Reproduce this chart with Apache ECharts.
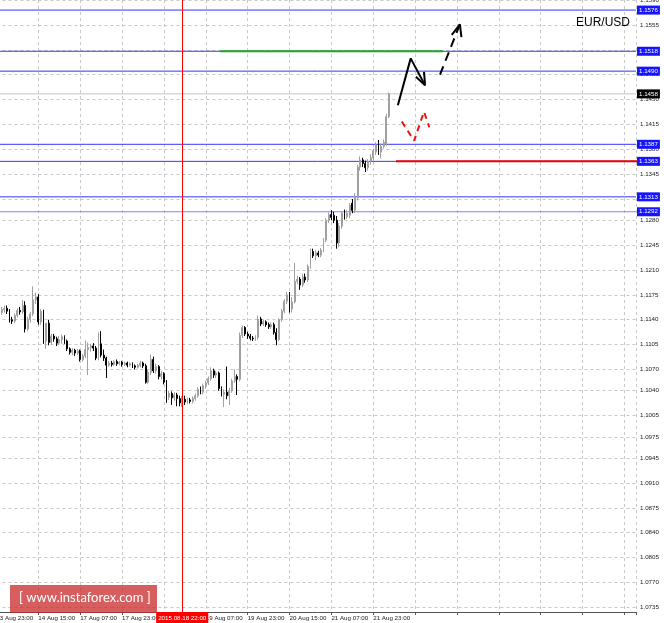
<!DOCTYPE html>
<html><head><meta charset="utf-8">
<script src="https://cdn.jsdelivr.net/npm/echarts@6/dist/echarts.min.js"></script>
<style>html,body{margin:0;padding:0;background:#fff;}#c{width:664px;height:623px;}</style>
</head><body><div id="c"></div>
<script>
// ---- data ----
const title = 'EUR/USD';
const timeLabels = ["13 Aug 23:00","14 Aug 15:00","17 Aug 07:00","17 Aug 23:00","18 Aug 15:00","19 Aug 07:00","19 Aug 23:00","20 Aug 15:00","21 Aug 07:00","21 Aug 23:00"];
const barsPerLabel = 16;
const firstBar = 1;           // index of first candle (13 Aug 23:00 = 0)
const lastVisibleBar = 244.4; // right edge of chart in bar units
const yMin = 1.07284, yMax = 1.15902;
const yTicks = [1.0735,1.0770,1.0805,1.0840,1.0875,1.0910,1.0945,1.0975,1.1005,1.1040,1.1070,1.1105,1.1140,1.1175,1.1210,1.1245,1.1280,1.1310,1.1345,1.1380,1.1415,1.1450,1.1485,1.1520,1.1555,1.1590];

const open = [
1.1153,1.1150,1.1154,1.1156,1.1152,1.1140,1.1138,1.1146,1.1153,1.1151,
1.1160,1.1127,1.1140,1.1148,1.1168,1.1172,1.1137,1.1152,1.1110,1.1135,
1.1108,1.1117,1.1113,1.1107,1.1112,1.1116,1.1110,1.1099,1.1094,1.1097,
1.1093,1.1096,1.1084,1.1089,1.1098,1.1101,1.1103,1.1100,1.1086,1.1106,
1.1090,1.1086,1.1076,1.1079,1.1077,1.1081,1.1078,1.1080,1.1077,1.1079,
1.1076,1.1078,1.1075,1.1073,1.1076,1.1079,1.1075,1.1052,1.1066,1.1084,
1.1068,1.1074,1.1060,1.1064,1.1052,1.1031,1.1036,1.1030,1.1034,1.1029,
1.1023,1.1028,1.1024,1.1027,1.1025,1.1029,1.1033,1.1042,1.1038,1.1047,
1.1051,1.1057,1.1068,1.1062,1.1065,1.1043,1.1035,1.1038,1.1033,1.1040,
1.1054,1.1060,1.1056,1.1118,1.1129,1.1120,1.1117,1.1114,1.1113,1.1115,
1.1141,1.1134,1.1137,1.1133,1.1130,1.1133,1.1122,1.1112,1.1140,1.1152,
1.1166,1.1176,1.1155,1.1165,1.1194,1.1197,1.1189,1.1200,1.1196,1.1215,
1.1236,1.1230,1.1234,1.1231,1.1238,1.1252,1.1280,1.1288,1.1287,1.1280,
1.1248,1.1272,1.1290,1.1285,1.1287,1.1304,1.1294,1.1312,1.1355,1.1365,
1.1360,1.1354,1.1363,1.1368,1.1376,1.1388,1.1376,1.1384,1.1388,1.1426];
const close = [
1.1150,1.1154,1.1156,1.1152,1.1140,1.1138,1.1146,1.1153,1.1151,1.1160,
1.1127,1.1140,1.1148,1.1168,1.1172,1.1137,1.1152,1.1110,1.1135,1.1108,
1.1117,1.1113,1.1107,1.1112,1.1116,1.1110,1.1099,1.1094,1.1097,1.1093,
1.1096,1.1084,1.1089,1.1098,1.1101,1.1103,1.1100,1.1086,1.1103,1.1090,
1.1086,1.1076,1.1079,1.1077,1.1081,1.1078,1.1080,1.1077,1.1079,1.1076,
1.1078,1.1075,1.1073,1.1076,1.1079,1.1075,1.1052,1.1066,1.1084,1.1068,
1.1074,1.1060,1.1064,1.1052,1.1031,1.1036,1.1030,1.1034,1.1029,1.1023,
1.1028,1.1024,1.1027,1.1025,1.1029,1.1033,1.1042,1.1038,1.1047,1.1051,
1.1057,1.1068,1.1062,1.1065,1.1043,1.1035,1.1038,1.1033,1.1040,1.1054,
1.1060,1.1056,1.1118,1.1129,1.1120,1.1117,1.1114,1.1113,1.1115,1.1141,
1.1134,1.1137,1.1133,1.1130,1.1133,1.1122,1.1112,1.1140,1.1152,1.1166,
1.1175,1.1155,1.1165,1.1194,1.1197,1.1189,1.1200,1.1196,1.1215,1.1236,
1.1230,1.1234,1.1231,1.1238,1.1252,1.1280,1.1288,1.1284,1.1280,1.1248,
1.1272,1.1290,1.1285,1.1290,1.1301,1.1294,1.1312,1.1355,1.1365,1.1360,
1.1354,1.1363,1.1368,1.1378,1.1386,1.1376,1.1384,1.1390,1.1426,1.1458];
const high = [
1.1158,1.1158,1.1160,1.1160,1.1155,1.1144,1.1149,1.1156,1.1158,1.1168,
1.1166,1.1144,1.1151,1.1187,1.1178,1.1176,1.1155,1.1154,1.1131,1.1140,
1.1120,1.1120,1.1116,1.1117,1.1119,1.1118,1.1112,1.1101,1.1100,1.1099,
1.1099,1.1098,1.1092,1.1111,1.1108,1.1106,1.1107,1.1103,1.1122,1.1124,
1.1098,1.1088,1.1082,1.1082,1.1083,1.1084,1.1082,1.1082,1.1081,1.1081,
1.1080,1.1080,1.1077,1.1078,1.1082,1.1081,1.1078,1.1070,1.1091,1.1088,
1.1078,1.1076,1.1068,1.1066,1.1055,1.1040,1.1039,1.1038,1.1037,1.1033,
1.1032,1.1033,1.1030,1.1030,1.1032,1.1036,1.1045,1.1046,1.1050,1.1054,
1.1060,1.1073,1.1071,1.1068,1.1067,1.1046,1.1042,1.1074,1.1044,1.1057,
1.1070,1.1063,1.1122,1.1132,1.1131,1.1123,1.1120,1.1117,1.1118,1.1146,
1.1144,1.1140,1.1139,1.1136,1.1136,1.1136,1.1128,1.1142,1.1155,1.1169,
1.1179,1.1179,1.1172,1.1220,1.1202,1.1200,1.1204,1.1205,1.1218,1.1240,
1.1240,1.1238,1.1237,1.1241,1.1255,1.1283,1.1291,1.1294,1.1292,1.1286,
1.1276,1.1293,1.1295,1.1294,1.1304,1.1310,1.1318,1.1358,1.1370,1.1368,
1.1364,1.1366,1.1373,1.1381,1.1390,1.1393,1.1388,1.1394,1.1430,1.1460];
const low = [
1.1146,1.1147,1.1150,1.1148,1.1136,1.1134,1.1135,1.1143,1.1147,1.1148,
1.1122,1.1124,1.1136,1.1145,1.1162,1.1133,1.1133,1.1106,1.1099,1.1104,
1.1105,1.1109,1.1103,1.1104,1.1106,1.1106,1.1096,1.1091,1.1090,1.1089,
1.1090,1.1081,1.1081,1.1086,1.1062,1.1095,1.1096,1.1083,1.1083,1.1087,
1.1082,1.1058,1.1074,1.1074,1.1075,1.1075,1.1076,1.1074,1.1075,1.1073,
1.1074,1.1072,1.1070,1.1071,1.1073,1.1072,1.1050,1.1049,1.1062,1.1065,
1.1064,1.1056,1.1056,1.1049,1.1023,1.1027,1.1020,1.1026,1.1018,1.1018,
1.1017,1.1020,1.1021,1.1022,1.1022,1.1026,1.1030,1.1035,1.1035,1.1043,
1.1048,1.1054,1.1058,1.1058,1.1040,1.1032,1.1017,1.1028,1.1020,1.1037,
1.1051,1.1034,1.1053,1.1114,1.1117,1.1113,1.1111,1.1110,1.1110,1.1112,
1.1131,1.1131,1.1130,1.1127,1.1127,1.1119,1.1104,1.1110,1.1137,1.1149,
1.1162,1.1150,1.1150,1.1163,1.1190,1.1182,1.1186,1.1192,1.1193,1.1212,
1.1227,1.1224,1.1228,1.1228,1.1235,1.1249,1.1276,1.1280,1.1276,1.1240,
1.1242,1.1268,1.1281,1.1282,1.1283,1.1290,1.1290,1.1308,1.1350,1.1355,
1.1348,1.1350,1.1358,1.1364,1.1372,1.1372,1.1367,1.1381,1.1385,1.1424];

// horizontal levels
const blueLevels = [1.1576, 1.1518, 1.1490, 1.1387, 1.1363, 1.1313];
const lightBlueLevels = [1.1292];
const currentPrice = 1.1458;
const markerBar = 71;
const markerText = '2015.08.18 22:00';
// drawn annotations: [bar index, price]
const greenLine = [[85.4, 1.1518], [170.6, 1.1518]];
const redLine = [[152.7, 1.1363], [246, 1.1363]];
const blackPath = [[153.4, 1.1442], [158.3, 1.1508], [163.8, 1.1470]];
const blackHead = [[163.4, 1.1489], [163.8, 1.1470], [160.3, 1.1482]];
const blackDash = [[169.5, 1.1485], [177.1, 1.1556]];
const blackDashHead = [[174.0, 1.1541], [177.1, 1.1556], [177.7, 1.1538]];
const redDash = [[154.9, 1.1419], [159.6, 1.1392], [163.4, 1.1433], [165.4, 1.1411]];

// ---- chart ----
const candles = open.map((o, k) => [firstBar + k, o, close[k], low[k], high[k]]);
const FONT = 'Liberation Sans, Arial, sans-serif';
const AX_FS = 6.2;

function lineS(data, color, width, type, z) {
  return { type: 'line', data: data, showSymbol: false, symbol: 'none', silent: true, z: z || 5,
    lineStyle: { color: color, width: width, type: type || 'solid', opacity: 1 }, animation: false };
}
function levelS(v, lineColor, boxColor) {
  const s = lineS([[0, v], [lastVisibleBar, v]], lineColor, 1, 'solid', 2);
  s.endLabel = { show: true, distance: 1, formatter: v.toFixed(4), color: '#fff', backgroundColor: boxColor,
    padding: [1, 2, 0, 2], fontSize: AX_FS, lineHeight: 8, fontFamily: FONT };
  s.itemStyle = { color: lineColor };
  return s;
}
const levelSeries = [];
blueLevels.forEach(v => levelSeries.push(levelS(v, '#3434ff', '#1414ff')));
lightBlueLevels.forEach(v => levelSeries.push(levelS(v, '#8080ff', '#1414ff')));
levelSeries.push(levelS(currentPrice, '#c4c4c4', '#000'));

const markerSeries = lineS([], '#ff0000', 1, 'solid', 2);
markerSeries.markLine = { silent: true, symbol: 'none', animation: false, data: [
  { xAxis: markerBar, lineStyle: { color: '#ff0000', width: 1, type: 'solid' },
    label: { show: true, position: 'start', distance: 0, formatter: markerText, color: '#fff',
      backgroundColor: '#ff0000', padding: [2, 2, 1, 2], fontSize: AX_FS, lineHeight: 8, fontFamily: FONT } }] };

const chart = echarts.init(document.getElementById('c'), null, { renderer: 'canvas' });
chart.setOption({
  animation: false,
  backgroundColor: '#fff',
  title: { text: title, left: 576, top: 17, padding: 0,
    textStyle: { fontSize: 12, fontWeight: 'normal', color: '#000', fontFamily: FONT } },
  grid: { left: -3.57, right: 28, top: 0, bottom: 11, containLabel: false, outerBoundsMode: 'none' },
  xAxis: {
    type: 'value', min: 0, max: lastVisibleBar, interval: barsPerLabel,
    axisLine: { show: true, lineStyle: { color: '#555', width: 1 } },
    axisTick: { show: true, length: 3, lineStyle: { color: '#555' } },
    splitLine: { show: true, lineStyle: { color: '#c8c8c8', type: [3, 3], width: 1 } },
    axisLabel: { show: true, align: 'left', margin: 3, fontSize: AX_FS, color: '#222', fontFamily: FONT,
      showMinLabel: true, showMaxLabel: true, hideOverlap: false,
      formatter: v => (v % barsPerLabel === 0 && timeLabels[v / barsPerLabel] !== undefined) ? timeLabels[v / barsPerLabel] : '' }
  },
  yAxis: {
    type: 'value', position: 'right', min: yMin, max: yMax, scale: true,
    axisLine: { show: true, lineStyle: { color: '#555', width: 1 } },
    axisTick: { show: true, length: 3, lineStyle: { color: '#555' }, customValues: yTicks },
    splitLine: { show: true, lineStyle: { color: '#c8c8c8', type: [3, 3], width: 1 } },
    axisLabel: { show: true, margin: 4, fontSize: AX_FS, color: '#222', fontFamily: FONT, customValues: yTicks,
      showMinLabel: true, showMaxLabel: true, hideOverlap: false, formatter: v => v.toFixed(4) }
  },
  series: [
    { type: 'candlestick', data: candles, encode: { x: 0, y: [1, 2, 3, 4] }, barWidth: 1.4,
      itemStyle: { color: '#a0a0a0', color0: '#000', borderColor: '#a0a0a0', borderColor0: '#000', borderWidth: 1 }, z: 3 },
    ...levelSeries,
    markerSeries,
    lineS(greenLine, '#1fa81f', 2),
    lineS(redLine, '#ee0000', 2),
    lineS(blackPath, '#000', 2),
    lineS(blackHead, '#000', 2),
    lineS(blackDash, '#000', 2, [9, 6]),
    lineS(blackDashHead, '#000', 2),
    lineS(redDash, '#ee1111', 2, [6, 5])
  ],
  graphic: [
    { type: 'rect', left: 10, top: 585, shape: { width: 147, height: 28 }, z: 100,
      style: { fill: 'rgba(200,40,40,0.75)' } },
    { type: 'text', left: 19, top: 591, z: 101,
      style: { text: '[ www.instaforex.com ]', fill: '#fff', fontSize: 13, fontFamily: 'Lato, Liberation Sans, sans-serif' } }
  ]
});
</script></body></html>
